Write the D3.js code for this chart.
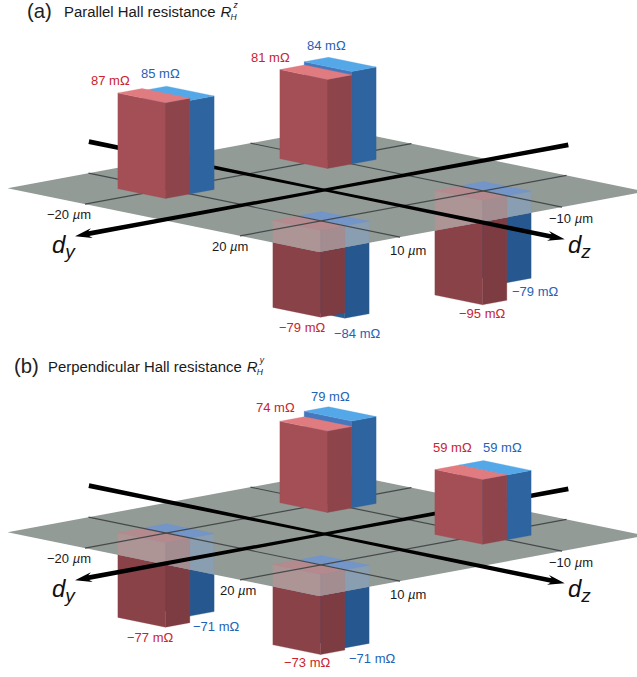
<!DOCTYPE html>
<html><head><meta charset="utf-8">
<style>html,body{margin:0;padding:0;background:#fff;overflow:hidden}svg{display:block}text{font-family:"Liberation Sans",Arial,sans-serif}</style>
<script src="https://cdn.jsdelivr.net/npm/d3@7"></script></head><body>
<script>
// ---- data -------------------------------------------------------------
const dyTicks = [10, -10];
const dzTicks = [-20, 20];
const dyCells = [10, -10, 10, -10];
const dzCells = [-20, -20, 20, 20];
const parallelRed  = [87, 81, -79, -95];
const parallelBlue = [85, 84, -84, -79];
const perpRed  = [-77, 74, -73, 59];
const perpBlue = [-71, 79, -71, 59];
const titles = ["Parallel Hall resistance", "Perpendicular Hall resistance"];
const panelTags = ["(a)", "(b)"];
const superscripts = ["z", "y"];

// ---- layout (text placement only) --------------------------------------
const W = 637, H = 677;
const panelY = [190, 534];
const redSpots  = [[[91,-105],[251,-128],[279,142],[459,128]],[[127,108],[256,-122],[284,133],[433,-82]]];
const blueSpots = [[[141,-112],[307,-140],[334,148],[512,106]],[[193,97],[311,-133],[349,129],[483,-82]]];
const tickSpots = [[[47,29],[212,61]],[[47,29],[220,61]]];
const dyLabelSpots = [[390,65],[549,33]];

// ---- scales ------------------------------------------------------------
const xDy = d3.scaleLinear().domain([-10,10]).range([81,-81]);
const yDy = d3.scaleLinear().domain([-10,10]).range([-15,15]);
const xDz = d3.scaleLinear().domain([-20,20]).range([-77.5,77.5]);
const yDz = d3.scaleLinear().domain([-20,20]).range([-15.9,15.9]);
const hY  = d3.scaleLinear().domain([0,100]).range([0,-110]);
const originX = 324.5;
const dyExtent = [-20.3, 20], dzExtent = [-40, 40.4];
const barDy = 3, barDz = 6.15;

const svg = d3.select("body").append("svg").attr("width",W).attr("height",H).attr("viewBox",`0 0 ${W} ${H}`);
const defs = svg.append("defs");
defs.append("filter").attr("id","soft").attr("x","-5%").attr("y","-5%").attr("width","110%").attr("height","110%")
  .append("feGaussianBlur").attr("stdDeviation",0.45);

const RED = {left:"#a44f55", right:"#8d454b", top:"#e07b80", through:["#ad9596","#a48d90","#b58a8e"]};
const BLUE = {left:"#4678bd", right:"#2f65a0", top:"#55a8e8", through:["#7f97b5","#8a9eb2","#7395c8"]};
const NEG = {red:{left:"#8a4249", right:"#7d3b42"}, blue:{left:"#2b5b96", right:"#28598f"}};
const TXTRED = "#c9242f", TXTBLUE = "#1f63b5";

function drawPanel(i, red, blue) {
  const oy = panelY[i];
  const P = (dy,dz,h=0) => [originX + xDy(dy) + xDz(dz), oy + yDy(dy) + yDz(dz) + hY(h)];
  const poly = pts => "M" + pts.map(p=>p.map(v=>v.toFixed(2)).join(",")).join("L") + "Z";
  const g = svg.append("g").attr("filter","url(#soft)");

  const planePts = [P(dyExtent[0],dzExtent[0]),P(dyExtent[0],dzExtent[1]),P(dyExtent[1],dzExtent[1]),P(dyExtent[1],dzExtent[0])];
  const clipId = "plane"+i;
  defs.append("clipPath").attr("id",clipId).append("path").attr("d",poly(planePts));

  function box(parent, dy0, dy1, dzc, v, col) {
    const lo = Math.min(v,0), hi = Math.max(v,0);
    const z0 = dzc-barDz, z1 = dzc+barDz;
    const faces = [
      {k:"left",  d:[P(dy1,z0,lo),P(dy1,z1,lo),P(dy1,z1,hi),P(dy1,z0,hi)]},
      {k:"right", d:[P(dy1,z1,lo),P(dy0,z1,lo),P(dy0,z1,hi),P(dy1,z1,hi)]},
      {k:"top",   d:[P(dy1,z0,hi),P(dy1,z1,hi),P(dy0,z1,hi),P(dy0,z0,hi)]}
    ];
    parent.selectAll(null).data(faces).enter().append("path")
      .attr("d",f=>poly(f.d)).attr("fill",f=>col[f.k]).attr("stroke",f=>col[f.k]).attr("stroke-width",0.3);
  }
  const cells = d3.range(dyCells.length).map(j=>({dy:dyCells[j],dz:dzCells[j],r:red[j],b:blue[j]}));
  const order = cells.slice().sort((a,b)=> (a.dy+a.dz/2)-(b.dy+b.dz/2));
  const drawCell = (parent,c,palette) => {
    box(parent, c.dy-barDy, c.dy, c.dz, c.b, palette(BLUE,c.b<0?NEG.blue:BLUE));
    box(parent, c.dy, c.dy+barDy, c.dz, c.r, palette(RED,c.r<0?NEG.red:RED));
  };
  // bars under the plane
  const under = g.append("g");
  order.filter(c=>c.r<0).forEach(c=>drawCell(under,c,(base,s)=>({left:s.left,right:s.right,top:base.top})));
  // plane
  g.append("path").attr("d",poly(planePts)).attr("fill","#939b97");
  // bars seen through the plane
  const through = g.append("g").attr("clip-path",`url(#${clipId})`);
  order.filter(c=>c.r<0).forEach(c=>drawCell(through,c,(base)=>({left:base.through[0],right:base.through[1],top:base.through[2]})));
  // grid lines
  const gridG = g.append("g").attr("stroke","#444a4a").attr("stroke-width",1.2).attr("fill","none");
  const line = d3.line();
  dyTicks.forEach(t=>gridG.append("path").attr("d",line([P(t,dzExtent[0]),P(t,dzExtent[1])])));
  dzTicks.forEach(t=>gridG.append("path").attr("d",line([P(dyExtent[0],t),P(dyExtent[1],t)])));
  // axes
  const axisG = g.append("g").attr("fill","#000");
  function axis(a, b, dir) {   // a: far end, b: arrow tip, in axis data units
    const pos = t => dir==="dy" ? P(t,0) : P(0,t);
    const A = pos(a), B = pos(b), C = pos(0);
    const L = Math.hypot(B[0]-A[0],B[1]-A[1]);
    const u = [(B[0]-A[0])/L,(B[1]-A[1])/L], n = [-u[1],u[0]];
    const along = (o,d,w) => [o[0]+u[0]*d+n[0]*w, o[1]+u[1]*d+n[1]*w];
    const headW = 5, headLen = 14;
    const path = [
      along(A,0,2.4), along(C,0,1.4), along(B,-headLen,2.4), along(B,-headLen-3,headW), B,
      along(B,-headLen-3,-headW), along(B,-headLen,-2.4), along(C,0,-1.4), along(A,0,-2.4)
    ];
    axisG.append("path").attr("d",poly(path));
  }
  axis(-30.1, 30.8, "dy");
  axis(-60.8, 62, "dz");
  // bars above the plane
  const over = g.append("g");
  order.filter(c=>c.r>=0).forEach(c=>drawCell(over,c,(base)=>({left:base.left,right:base.right,top:base.top})));

  // text
  const t = svg.append("g");
  const fmt = v => (v<0?"\u2212":"")+Math.abs(v)+" m\u03a9";
  cells.forEach((c,j)=>{
    t.append("text").attr("x",redSpots[i][j][0]).attr("y",oy+redSpots[i][j][1]).attr("font-size",13).attr("fill",TXTRED).text(fmt(c.r));
    t.append("text").attr("x",blueSpots[i][j][0]).attr("y",oy+blueSpots[i][j][1]).attr("font-size",13).attr("fill",TXTBLUE).text(fmt(c.b));
  });
  const tick = (v,spot) => {
    const e = t.append("text").attr("x",spot[0]).attr("y",oy+spot[1]).attr("font-size",13).attr("fill","#1a1a1a");
    e.append("tspan").text((v<0?"\u2212":"")+Math.abs(v)+" ");
    e.append("tspan").attr("font-style","italic").text("\u00b5");
    e.append("tspan").text("m");
  };
  dzTicks.forEach((v,k)=>tick(v,tickSpots[i][k]));
  dyTicks.forEach((v,k)=>tick(v,dyLabelSpots[k]));
  [["d","y",52],["d","z",568]].forEach(([a,b,x])=>{
    const e = t.append("text").attr("x",x).attr("y",oy+63).attr("font-size",24).attr("font-style","italic").attr("fill","#111");
    e.append("tspan").text(a);
    e.append("tspan").attr("dy",5).attr("font-size",19).text(b);
  });
  // title
  const ty = i===0 ? 18.4 : 373;
  t.append("text").attr("x",i===0?27:14).attr("y",ty).attr("font-size",20.3).attr("fill","#222").text(panelTags[i]);
  const titleX = i===0?64:48, sy = i===0 ? 17 : 372;
  const tt = t.append("text").attr("x",titleX).attr("y",sy).attr("font-size",14.9).attr("fill","#1a1a1a").text(titles[i]);
  const rx = titleX+tt.node().getComputedTextLength()+5;
  t.append("text").attr("x",rx).attr("y",sy).attr("font-size",15).attr("font-style","italic").attr("fill","#1a1a1a").text("R");
  t.append("text").attr("x",rx+13).attr("y",sy-9).attr("font-size",8.5).attr("font-style","italic").attr("fill","#1a1a1a").text(superscripts[i]);
  t.append("text").attr("x",rx+10).attr("y",sy+3).attr("font-size",8.5).attr("font-style","italic").attr("fill","#1a1a1a").text("H");
}
drawPanel(0, parallelRed, parallelBlue);
drawPanel(1, perpRed, perpBlue);
</script></body></html>
